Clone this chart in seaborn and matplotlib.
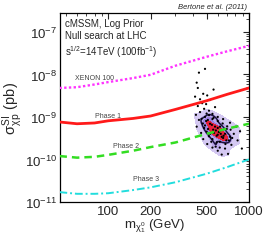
import numpy as np
import pandas as pd
import matplotlib
matplotlib.use("Agg")
import matplotlib.pyplot as plt
import seaborn as sns
from matplotlib.colors import LinearSegmentedColormap, ListedColormap

sns.set_theme(style="white")
plt.rcParams['font.family'] = ['Liberation Sans', 'DejaVu Sans']
plt.rcParams['mathtext.fontset'] = 'custom'
plt.rcParams['mathtext.rm'] = 'Liberation Sans'
plt.rcParams['mathtext.it'] = 'Liberation Sans'
plt.rcParams['mathtext.bf'] = 'Liberation Sans:bold'

# ---- data ----
line_mass = [45, 60, 80, 100, 150, 200, 300, 500, 700, 1000]
xenon100 = [4.8e-9, 5.0e-9, 5.8e-9, 6.6e-9, 8.2e-9, 9.8e-9, 1.6e-8, 2.6e-8, 3.5e-8, 4.7e-8]
phase1 = [7.6e-10, 6.9e-10, 7.2e-10, 8.1e-10, 9.2e-10, 1.05e-9, 1.5e-9, 2.4e-9, 3.4e-9, 4.8e-9]
phase2 = [1.2e-10, 1.1e-10, 1.15e-10, 1.28e-10, 1.6e-10, 1.95e-10, 2.5e-10, 4.0e-10, 5.3e-10, 6.9e-10]
phase3 = [1.7e-11, 1.55e-11, 1.55e-11, 1.6e-11, 1.9e-11, 2.2e-11, 2.9e-11, 4.6e-11, 6.6e-11, 1.0e-10]

# scattered posterior samples
cloud_mass = [487, 441, 425, 433, 560, 473, 505, 414, 449, 529, 465, 496, 433, 574, 480,
              520, 449, 550, 420, 487, 600, 655, 441, 733, 810, 864, 425, 457, 473, 505,
              550, 600, 676, 750, 830, 710, 640, 890,
              529, 574, 623, 600, 640, 565, 676, 550, 690, 512, 733, 590, 496, 550,
              582, 610, 630, 590, 557, 655, 530, 487, 695, 623,
              460, 470, 480, 500, 520, 540, 580, 620, 680, 720, 760, 780,
              740, 700, 650, 600, 560, 520, 500, 620, 660, 600, 545, 510]
cloud_sigma = [1.35e-8, 1.1e-8, 6.4e-9, 4.8e-9, 4.4e-9, 3.5e-9, 3.2e-9, 3.0e-9, 2.6e-9, 2.5e-9,
               2.1e-9, 2.0e-9, 1.8e-9, 1.7e-9, 1.55e-9, 1.4e-9, 1.3e-9, 1.18e-9, 1.12e-9, 1.0e-9,
               1.0e-9, 8.9e-10, 8.5e-10, 7.3e-10, 5.9e-10, 4.6e-10, 5.9e-10, 4.2e-10, 3.0e-10, 2.3e-10,
               1.9e-10, 1.6e-10, 1.8e-10, 2.2e-10, 2.8e-10, 1.35e-10, 1.3e-10, 1.8e-10,
               6.9e-10, 5.9e-10, 4.8e-10, 3.8e-10, 3.4e-10, 4.2e-10, 4.0e-10, 3.0e-10, 2.8e-10, 5.2e-10,
               3.4e-10, 2.5e-10, 8.0e-10, 8.9e-10,
               4.8e-10, 4.4e-10, 4.0e-10, 3.6e-10, 5.0e-10, 3.2e-10, 4.0e-10, 6.3e-10, 5.2e-10, 5.9e-10,
               9.0e-10, 7.0e-10, 5.5e-10, 4.5e-10, 3.5e-10, 2.6e-10, 2.0e-10, 1.9e-10, 2.3e-10, 2.8e-10,
               3.2e-10, 4.0e-10, 5.0e-10, 6.0e-10, 7.0e-10, 8.0e-10, 9.5e-10, 1.1e-9, 1.2e-9, 2.6e-10,
               3.6e-10, 5.5e-10, 6.5e-10, 8.5e-10]

x_ticks = [100, 200, 500, 1000]
x_ticklabels = ["100", "200", "500", "1000"]

lines = pd.DataFrame({"m": line_mass, "XENON 100": xenon100, "Phase 1": phase1,
                      "Phase 2": phase2, "Phase 3": phase3})
cloud = pd.DataFrame({"m": cloud_mass, "s": cloud_sigma})
core = cloud[cloud["s"] < 1.3e-9]

fig = plt.figure(figsize=(2.66, 2.53), dpi=100)
ax = fig.add_axes([0.226, 0.198, 0.71, 0.747])
ax.set_xscale("log")
ax.set_yscale("log")

# cloud: filled density + points
cmap = LinearSegmentedColormap.from_list("lav", ["#e4dcf6", "#b7a2ea", "#8566d8"])
sns.kdeplot(data=core, x="m", y="s", log_scale=True, fill=True, levels=[0.12, 0.45, 0.7, 1.0],
            cmap=cmap, bw_adjust=0.75, ax=ax, zorder=1)
sns.kdeplot(data=core, x="m", y="s", log_scale=True, fill=True, levels=[0.8, 1.0],
            cmap=ListedColormap(["#e8203a"]), bw_adjust=0.75, ax=ax, zorder=2)
sns.kdeplot(data=core, x="m", y="s", log_scale=True, fill=False, levels=[0.55],
            color="#1a1040", linewidths=1.1, bw_adjust=0.75, ax=ax, zorder=3)
sns.scatterplot(data=cloud, x="m", y="s", s=2.5, color="black", edgecolor="none", ax=ax, zorder=4)

# limit curves
sns.lineplot(data=lines, x="m", y="XENON 100", color="#ff33ff", lw=1.7, ax=ax,
             linestyle=(0, (1, 1)), zorder=5)
sns.lineplot(data=lines, x="m", y="Phase 1", color="#ff1a1a", lw=2.0, ax=ax, zorder=5)
sns.lineplot(data=lines, x="m", y="Phase 2", color="#33dd22", lw=1.8, ax=ax,
             linestyle=(0, (3, 2)), zorder=5)
sns.lineplot(data=lines, x="m", y="Phase 3", color="#22dddd", lw=1.4, ax=ax,
             linestyle=(0, (4, 1.5, 1, 1.5)), zorder=5)

ax.set_xlim(45.5, 1000)
ax.set_ylim(1e-11, 2.8e-7)
ax.set_xticks(x_ticks)
ax.set_xticklabels(x_ticklabels)
ax.tick_params(axis="both", which="both", direction="in", top=True, right=True,
               labelsize=9.5, pad=2)
ax.tick_params(which="major", length=4, width=0.8)
ax.tick_params(which="minor", length=2, width=0.6)
ax.tick_params(axis="x", which="minor", labelbottom=False)
for sp in ax.spines.values():
    sp.set_color("black")
    sp.set_linewidth(0.9)

ax.set_xlabel(r"m$_{\chi^0_1}$ (GeV)", fontsize=9.5, labelpad=0)
ax.set_ylabel(r"$\sigma^{\mathrm{SI}}_{\chi\,\mathrm{p}}$ (pb)", fontsize=10.5, labelpad=0)

ax.text(0.025, 0.975, "cMSSM, Log Prior\nNull search at LHC\ns$^{1/2}$=14TeV (100fb$^{-1}$)",
        transform=ax.transAxes, fontsize=7, va="top", ha="left", linespacing=1.3)
ax.text(0.99, 1.015, "Bertone et al. (2011)", transform=ax.transAxes, fontsize=5.5,
        style="italic", ha="right", va="bottom")

ax.text(0.08, 0.66, "XENON 100", transform=ax.transAxes, fontsize=5, color="#444444", va="center")
ax.text(0.185, 0.455, "Phase 1", transform=ax.transAxes, fontsize=5, color="#444444", va="center")
ax.text(0.28, 0.296, "Phase 2", transform=ax.transAxes, fontsize=5, color="#444444", va="center")
ax.text(0.386, 0.122, "Phase 3", transform=ax.transAxes, fontsize=5, color="#444444", va="center")

fig.savefig("out.png", dpi=100)
